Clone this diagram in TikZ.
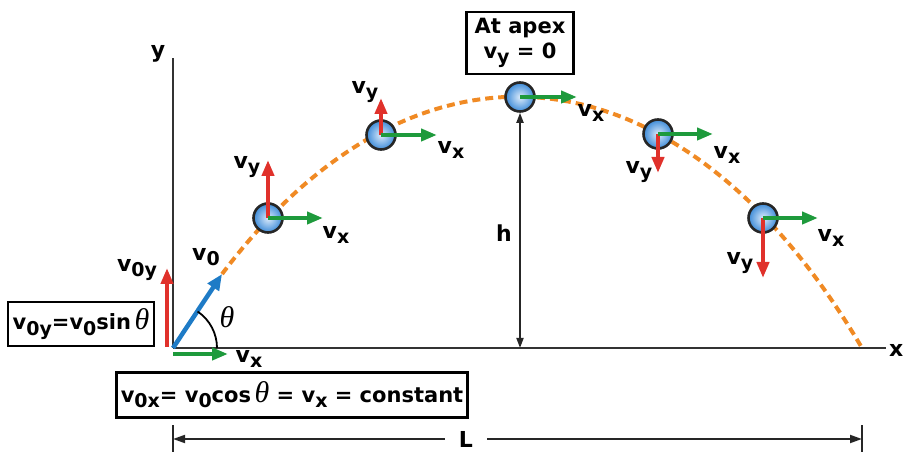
\documentclass[tikz,border=0pt]{standalone}
\usepackage{fontspec}
\setmainfont{DejaVu Sans}
\newfontfamily\greekfont{Liberation Serif}
\usepackage{tikz}
\usetikzlibrary{positioning,arrows.meta,calc}
\definecolor{trajorange}{HTML}{F08A24}
\definecolor{vyred}{HTML}{E0312B}
\definecolor{vxgreen}{HTML}{1E9A3C}
\definecolor{vzeroblue}{HTML}{1E7BC6}
\definecolor{ballin}{HTML}{DCEBFB}
\definecolor{ballout}{HTML}{3D8BD8}
\newcommand{\sub}[1]{\raisebox{-0.45ex}{\fontsize{19}{19}\selectfont #1}}
\newcommand{\thet}{{\greekfont\mdseries\itshape\fontsize{30}{30}\selectfont θ}}

\begin{document}
\begin{tikzpicture}[x=1pt, y=1pt,
    lbl/.style={font=\fontsize{22}{24}\selectfont\bfseries, inner sep=0pt},
    formula/.style={draw=black, line width=2.4pt, inner sep=0pt, align=center, font=\fontsize{21}{25}\selectfont\bfseries},
    ball/.style={circle, draw=black!85, line width=2.6pt, minimum size=29pt, inner sep=0pt, inner color=ballin, outer color=ballout},
    axis/.style={line width=2.2pt, draw=black!80},
    traj/.style={draw=trajorange, line width=4pt, dash pattern=on 8pt off 5pt},
    vyarr/.style={draw=vyred, fill=vyred, line width=4pt, -{Triangle[length=16pt, width=12pt]}},
    vxarr/.style={draw=vxgreen, fill=vxgreen, line width=4pt, -{Triangle[length=16pt, width=12pt]}},
    v0arr/.style={draw=vzeroblue, fill=vzeroblue, line width=4.5pt, -{Triangle[length=16pt, width=13pt]}},
    harr/.style={line width=1.8pt, draw=black!85, {Triangle[length=10pt, width=7pt]}-{Triangle[length=10pt, width=7pt]}},
    dim/.style={line width=1.8pt, draw=black!85, -{Triangle[length=12pt, width=8pt]}},
    tick/.style={line width=1.8pt, draw=black!85}
]
    \useasboundingbox (0,0) rectangle (904,452);

    % Axes
    \coordinate (O) at (173,104);
    \coordinate (ytop) at (173,394);
    \coordinate (xend) at (886,104);
    \draw[axis] (O) -- (ytop);
    \draw[axis] (O) -- (xend);
    \node[lbl] (ylab) at (158,398) {y};
    \node[lbl, anchor=west] (xlab) at (889,102) {x};

    % Trajectory
    \coordinate (v0tip) at (222.06,177.97);
    \coordinate (land) at (862,104);
    \draw[traj] (v0tip) .. controls (416.57,436.86) and (680.76,412.2) .. (land);

    % Balls along the path
    \node[ball] (b1) at (268,234) {};
    \node[ball] (b2) at (381,317) {};
    \node[ball] (b3) at (520,355) {};
    \node[ball] (b4) at (658,318) {};
    \node[ball] (b5) at (763,234) {};

    % Velocity components on the balls
    \draw[vyarr] (b1.center) -- ++(0,58);
    \draw[vxarr] (b1.center) -- ++(55,0);
    \draw[vyarr] (b2.center) -- ++(0,37);
    \draw[vxarr] (b2.center) -- ++(56,0);
    \draw[vxarr] (b3.center) -- ++(57,0);
    \draw[vyarr] (b4.center) -- ++(0,-39);
    \draw[vxarr] (b4.center) -- ++(55,0);
    \draw[vyarr] (b5.center) -- ++(0,-60);
    \draw[vxarr] (b5.center) -- ++(55,0);

    \node[lbl] at (247,285) {v\sub{y}};
    \node[lbl] at (336,217) {v\sub{x}};
    \node[lbl] at (365,360) {v\sub{y}};
    \node[lbl] at (451,302) {v\sub{x}};
    \node[lbl] at (591,339) {v\sub{x}};
    \node[lbl] at (727,297) {v\sub{x}};
    \node[lbl] at (639,280) {v\sub{y}};
    \node[lbl] at (831,214) {v\sub{x}};
    \node[lbl] at (740,189) {v\sub{y}};

    % Launch vectors
    \coordinate (v0ybase) at (167,105);
    \coordinate (v0ytip) at (167,184);
    \coordinate (v0xbase) at (173,98);
    \coordinate (v0xtip) at (228,98);
    \draw[vyarr] (v0ybase) -- (v0ytip);
    \draw[vxarr] (v0xbase) -- (v0xtip);
    \draw[v0arr] (O) -- (v0tip);
    \draw[line width=1.8pt] ($(O)+(44,0)$) arc[start angle=0, end angle=56, radius=44];

    \node[lbl] at (206,195) {v\sub{0}};
    \node[lbl] at (137,182) {v\sub{0y}};
    \node[lbl] at (249,93) {v\sub{x}};
    \node[lbl] at (227,135) {\thet};

    % Height of the apex
    \coordinate (hbase) at (520,104);
    \draw[harr] (hbase) -- (b3.south);
    \node[lbl] at (504,219) {h};

    % Formula boxes
    \node[formula, minimum width=107pt, minimum height=62pt] (apex) at (520,409) {At apex\\v\sub{y} = 0};
    \node[formula, minimum width=146pt, minimum height=44pt] (sinbox) at (81,128) {v\sub{0y}=v\sub{0}sin\,\thet};
    \node[formula, minimum width=351pt, minimum height=45pt] (cosbox) at (292,57) {v\sub{0x}= v\sub{0}cos\,\thet{} = v\sub{x} = constant};

    % Range
    \coordinate (Lleft) at (173,13);
    \coordinate (Lright) at (862,13);
    \node[lbl, inner xsep=14pt] (Llab) at (466,13) {L};
    \draw[dim] (Llab) -- (Lleft);
    \draw[dim] (Llab) -- (Lright);
    \draw[tick] (Lleft) ++(0,-15) -- ++(0,29);
    \draw[tick] (Lright) ++(0,-15) -- ++(0,29);
\end{tikzpicture}
\end{document}
